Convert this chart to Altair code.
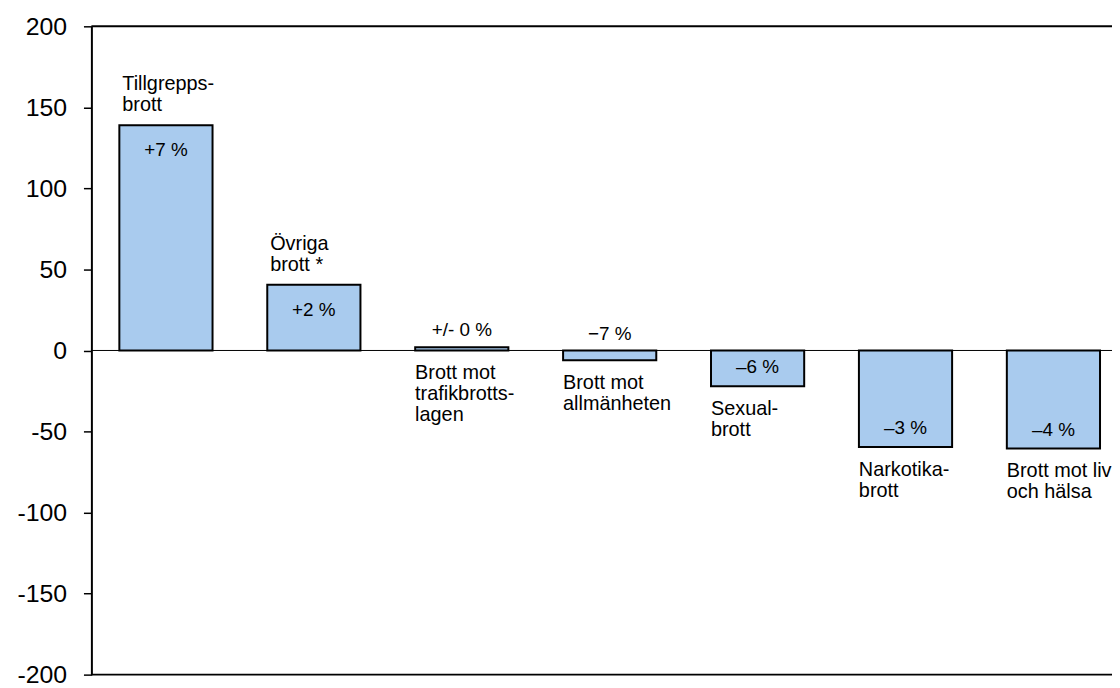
import altair as alt
import pandas as pd

categories = ["Tillgreppsbrott", "Övriga brott", "Brott mot trafikbrottslagen",
              "Brott mot allmänheten", "Sexualbrott", "Narkotikabrott",
              "Brott mot liv och hälsa"]
values = [139, 40.5, 2, -6, -22, -59.5, -60.5]
cat_labels = ["Tillgrepps-\nbrott", "Övriga\nbrott *", "Brott mot\ntrafikbrotts-\nlagen",
              "Brott mot\nallmänheten", "Sexual-\nbrott", "Narkotika-\nbrott",
              "Brott mot liv\noch hälsa"]
pct_labels = ["+7 %", "+2 %", "+/- 0 %", "\u22127 %", "\u20136 %", "\u20133 %", "\u20134 %"]
y_ticks = [-200, -150, -100, -50, 0, 50, 100, 150, 200]

df = pd.DataFrame({"cat": categories, "v": values, "lab": cat_labels, "pct": pct_labels})
df["top"] = df["v"].clip(lower=0)
df["bot"] = df["v"].clip(upper=0)

FONT = "Liberation Sans"
xscale = alt.Scale(paddingInner=0.37, paddingOuter=0.135, align=0.7)
yscale = alt.Scale(domain=[-200, 200], nice=False, zero=False)
yaxis = alt.Axis(values=y_ticks, grid=False, domainColor="black", domainWidth=2,
                 tickColor="black", tickWidth=1.5, tickSize=8, labelFontSize=25,
                 labelColor="black", labelFont=FONT, labelPadding=17,
                 labelExpr="'' + datum.value", title=None)
X = alt.X("cat:N", sort=categories, scale=xscale, axis=None)


def Y(field):
    return alt.Y(field, scale=yscale, axis=yaxis, title=None)


base = alt.Chart(df)

bars = base.mark_bar(fill="#A9CBEE", stroke="black", strokeWidth=2).encode(
    x=X, y=Y("v:Q"),
)


def txt(**kw):
    return dict(font=FONT, color="black", **kw)


cat_above = base.transform_filter("datum.v > 10").mark_text(
    **txt(fontSize=20, align="left", baseline="bottom", dx=-44, dy=-31, lineBreak="\n", lineHeight=21)
).encode(x=X, y=Y("top:Q"), text="lab:N")

cat_below = base.transform_filter("datum.v <= 10").mark_text(
    **txt(fontSize=20, align="left", baseline="top", dx=-47, dy=13, lineBreak="\n", lineHeight=21)
).encode(x=X, y=Y("bot:Q"), text="lab:N")

pct_in_top = base.transform_filter("datum.v > 10").mark_text(
    **txt(fontSize=19, align="center", baseline="alphabetic", dy=31)
).encode(x=X, y=Y("top:Q"), text="pct:N")

pct_above0 = base.transform_filter("abs(datum.v) <= 10").mark_text(
    **txt(fontSize=19, align="center", baseline="alphabetic", dy=-11)
).encode(x=X, y=Y("top:Q"), text="pct:N")

pct_in_bot = base.transform_filter("datum.v < -10").mark_text(
    **txt(fontSize=19, align="center", baseline="alphabetic", dy=-13)
).encode(x=X, y=Y("bot:Q"), text="pct:N")

borders = alt.Chart(pd.DataFrame({"b": [200, -200]})).mark_rule(
    color="black", strokeWidth=2
).encode(y=Y("b:Q"))

zero = alt.Chart(pd.DataFrame({"z": [0]})).mark_rule(
    color="black", strokeWidth=1
).encode(y=Y("z:Q"))

chart = alt.layer(zero, bars, borders, cat_above, cat_below, pct_in_top, pct_above0, pct_in_bot).properties(
    width=1028, height=653,
    padding={"left": 84, "top": 16, "right": 0, "bottom": 10},
    autosize=alt.AutoSizeParams(type="none"),
).configure_view(stroke=None)

chart.save("out.html", embed_options={"renderer": "svg", "actions": False})
